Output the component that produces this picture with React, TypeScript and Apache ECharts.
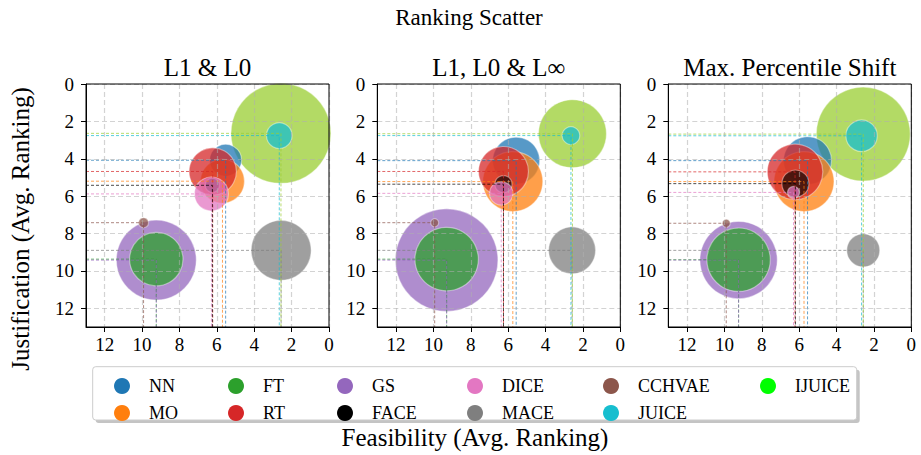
import React, { useEffect, useRef } from "react";
import * as echarts from "echarts";

// ---- data -------------------------------------------------------------
const methods = ["NN", "MO", "FT", "RT", "GS", "FACE", "DICE", "MACE", "CCHVAE", "JUICE", "IJUICE"];
const panelTitles = ["L1 & L0", "L1, L0 & L\u221e", "Max. Percentile Shift"];
const tickValues = [0, 2, 4, 6, 8, 10, 12];
const axisMax = 13;

// Feasibility (x), Justification (y) average rankings and bubble size, per panel
const feasL1L0 = [5.53, 5.7, 9.24, 6.22, 9.24, 6.24, 6.29, 2.56, 9.92, 2.66, 2.57];
const justL1L0 = [4.08, 5.2, 9.37, 4.68, 9.42, 5.42, 5.88, 8.9, 7.42, 2.76, 2.64];
const sizeL1L0 = [16, 22, 26.7, 23.7, 40, 7, 17, 30, 5, 12.8, 50];

const feasL1L0Linf = [5.57, 5.75, 9.29, 6.25, 9.29, 6.25, 6.37, 2.58, 9.93, 2.64, 2.56];
const justL1L0Linf = [4.1, 5.22, 9.37, 4.68, 9.42, 5.36, 5.85, 8.9, 7.42, 2.76, 2.66];
const sizeL1L0Linf = [23.5, 30, 31.7, 25, 51.3, 8.5, 11.7, 23.5, 4, 8.8, 34];

const feasMPS = [5.55, 5.74, 9.24, 6.22, 9.24, 6.2, 6.3, 2.57, 9.9, 2.66, 2.57];
const justMPS = [4.1, 5.22, 9.4, 4.7, 9.42, 5.33, 5.8, 8.9, 7.45, 2.77, 2.68];
const sizeMPS = [24, 30, 31.7, 27.8, 38.7, 13.5, 6, 16.5, 4, 15.7, 47];

const panels = [
  { x: feasL1L0, y: justL1L0, s: sizeL1L0 },
  { x: feasL1L0Linf, y: justL1L0Linf, s: sizeL1L0Linf },
  { x: feasMPS, y: justMPS, s: sizeMPS },
];

// ---- styles -----------------------------------------------------------
const legendColors: Record<string, string> = {
  NN: "#1f77b4", MO: "#ff7f0e", FT: "#2ca02c", RT: "#d62728", GS: "#9467bd", FACE: "#000000",
  DICE: "#e377c2", MACE: "#7f7f7f", CCHVAE: "#8c564b", JUICE: "#17becf", IJUICE: "#00ff00",
};
const fillColors: Record<string, string> = { ...legendColors, IJUICE: "#9acd32" };
const drawOrder = ["IJUICE", "GS", "MACE", "FT", "NN", "MO", "RT", "FACE", "DICE", "CCHVAE", "JUICE"];
const legendColumns = [["NN", "MO"], ["FT", "RT"], ["GS", "FACE"], ["DICE", "MACE"], ["CCHVAE", "JUICE"], ["IJUICE"]];
const legendColX = [117, 231, 340, 470, 606, 763];

const FONT = "'Liberation Serif', 'DejaVu Serif', serif";
const GRID_LEFT = [86, 377.3, 668.3];
const GRID_TOP = 84;
const GRID_SIZE = 243;

function buildOption() {
  const grid: any[] = [];
  const xAxis: any[] = [];
  const yAxis: any[] = [];
  const series: any[] = [];
  const graphic: any[] = [];

  panels.forEach((p, pi) => {
    grid.push({
      left: GRID_LEFT[pi], top: GRID_TOP, width: GRID_SIZE, height: GRID_SIZE,
      show: true, z: 10, backgroundColor: "transparent", borderColor: "#000", borderWidth: 1,
    });
    const common = {
      gridIndex: pi, type: "value", min: 0, max: axisMax, interval: 2, inverse: true, z: 6,
      axisLine: { show: true, onZero: false, lineStyle: { color: "#000", width: 1 } },
      axisTick: { show: true, inside: false, length: 5, customValues: tickValues, lineStyle: { color: "#000" } },
      splitLine: { show: true, lineStyle: { color: "rgba(175,175,175,0.55)", width: 1.2, type: [5, 3] } },
    };
    xAxis.push({
      ...common,
      axisLabel: { color: "#000", fontFamily: FONT, fontSize: 19, margin: 8, customValues: tickValues },
    });
    yAxis.push({
      ...common,
      axisLabel: { color: "#000", fontFamily: FONT, fontSize: 19, margin: 12, customValues: tickValues },
    });

    drawOrder.forEach((name) => {
      const i = methods.indexOf(name);
      series.push({
        type: "scatter", name, xAxisIndex: pi, yAxisIndex: pi, z: 2, clip: false,
        data: [[p.x[i], p.y[i], p.s[i]]],
        symbol: "circle",
        symbolSize: (v: number[]) => v[2] * 2,
        itemStyle: {
          color: fillColors[name], opacity: name === "FACE" ? 0.65 : 0.75,
          borderColor: "rgba(255,255,255,0.55)", borderWidth: 1.2,
        },
        emphasis: { disabled: true },
      });
    });
    methods.forEach((name, i) => {
      series.push({
        type: "line", name, xAxisIndex: pi, yAxisIndex: pi, z: 3,
        data: [[axisMax, p.y[i]], [p.x[i], p.y[i]], [p.x[i], axisMax]],
        symbol: "none", silent: true,
        lineStyle: { color: fillColors[name], width: 1, type: [3, 2], opacity: 0.7 },
      });
    });

    graphic.push({
      type: "text", x: GRID_LEFT[pi] + GRID_SIZE / 2, y: 67,
      style: { text: panelTitles[pi], fontFamily: FONT, fontSize: 25, fill: "#000", align: "center", verticalAlign: "middle" },
    });
  });

  graphic.push(
    { type: "text", x: 469, y: 17, style: { text: "Ranking Scatter", fontFamily: FONT, fontSize: 23, fill: "#000", align: "center", verticalAlign: "middle" } },
    { type: "text", x: 475, y: 437, style: { text: "Feasibility (Avg. Ranking)", fontFamily: FONT, fontSize: 25, fill: "#000", align: "center", verticalAlign: "middle" } },
    { type: "text", x: 20, y: 229, rotation: Math.PI / 2, style: { text: "Justification (Avg. Ranking)", fontFamily: FONT, fontSize: 25, fill: "#000", align: "center", verticalAlign: "middle" } },
    { type: "rect", z: 1, shape: { x: 95.7, y: 369.7, width: 764, height: 53.3, r: 3 }, style: { fill: "#c4c4c4" } },
    { type: "rect", z: 1, shape: { x: 92.7, y: 366.7, width: 764, height: 53.3, r: 3 }, style: { fill: "#fff", stroke: "#cccccc", lineWidth: 1 } },
  );

  const legend = legendColumns.map((col, ci) => ({
    orient: "vertical", left: legendColX[ci] - 8, top: 372, z: 5,
    itemWidth: 16, itemHeight: 16, itemGap: 9, icon: "circle", selectedMode: false,
    data: col.map((n) => ({ name: n, itemStyle: { color: legendColors[n], opacity: 1, borderWidth: 0 } })),
    textStyle: { fontFamily: FONT, fontSize: 18, color: "#000", lineHeight: 16, padding: [0, 0, 0, 14] },
  }));

  return { animation: false, backgroundColor: "#fff", grid, xAxis, yAxis, series, graphic, legend };
}

export default function App() {
  const ref = useRef<HTMLDivElement>(null);
  useEffect(() => {
    if (!ref.current) return;
    const chart = echarts.init(ref.current, null, { renderer: "svg" });
    chart.setOption(buildOption() as any);
    return () => chart.dispose();
  }, []);
  return <div ref={ref} style={{ position: "absolute", left: 0, top: 0, width: 921, height: 455 }} />;
}
